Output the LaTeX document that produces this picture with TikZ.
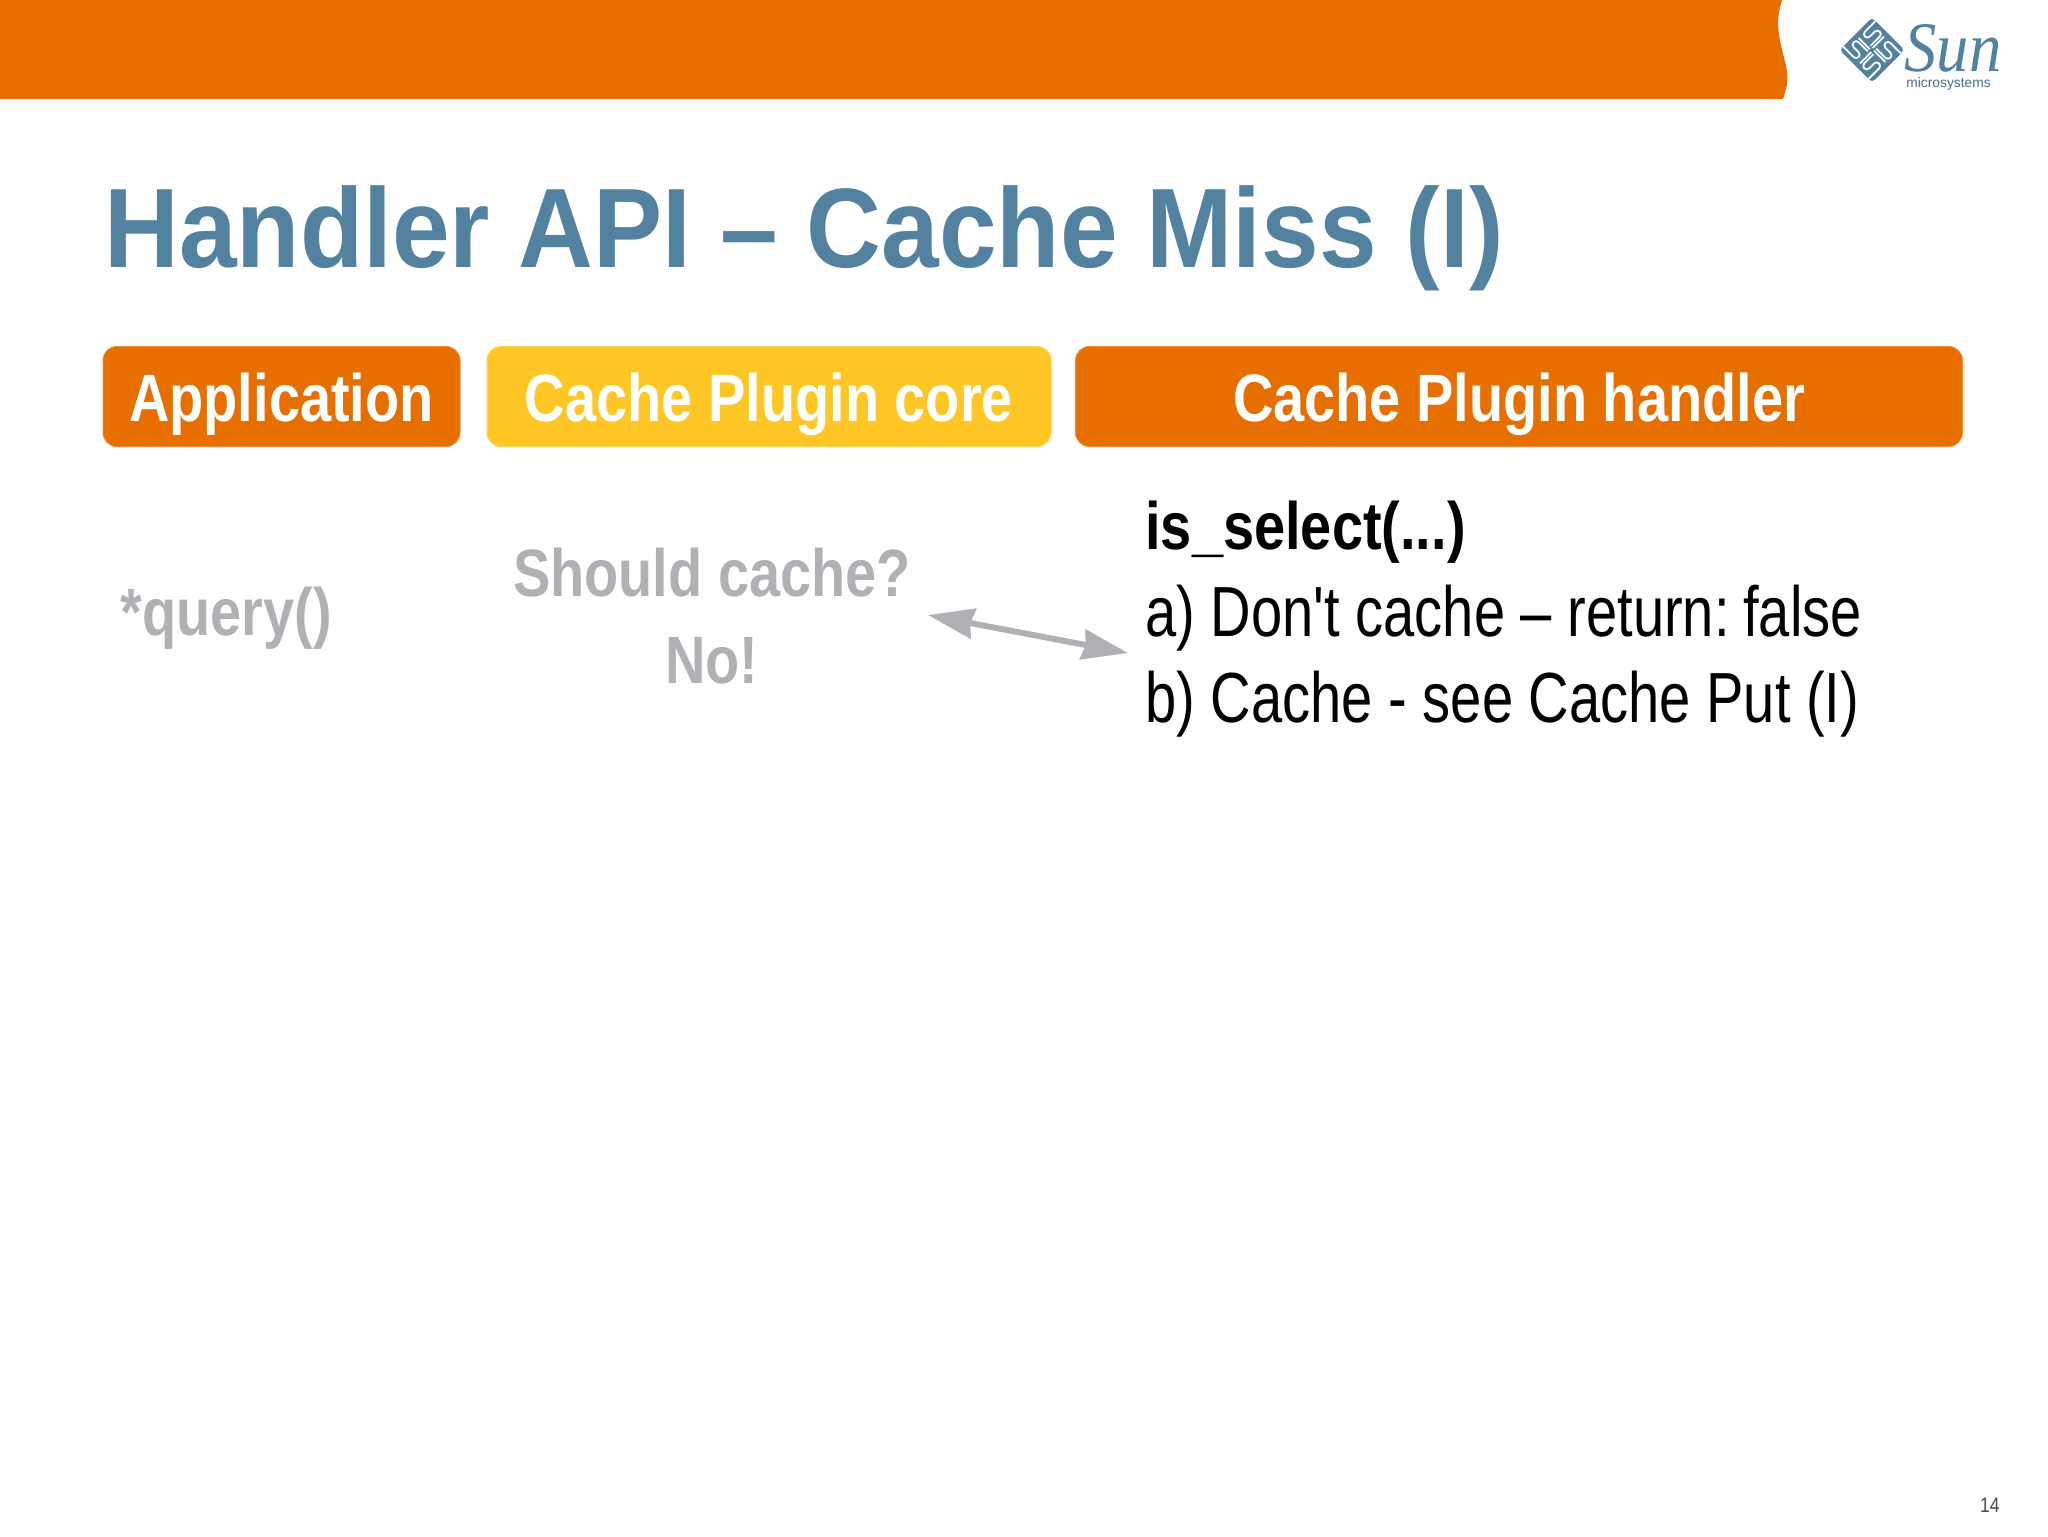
\documentclass[tikz,border=0pt]{standalone}
\usepackage{fontspec}
\setmainfont{Liberation Sans}
\newfontfamily\narrowfont[FakeStretch=0.835]{Liberation Sans}
\newfontfamily\plainfont[FakeStretch=0.79]{Liberation Sans}
\newfontfamily\titlefont[FakeStretch=0.917]{Liberation Sans}
\newfontfamily\sunfont[FakeStretch=0.91]{Liberation Serif}
\usetikzlibrary{arrows.meta}
\definecolor{sunorange}{HTML}{E76F00}
\definecolor{sunyellow}{HTML}{FFC726}
\definecolor{sunblue}{HTML}{5382A1}
\definecolor{fadegray}{HTML}{B2B0B5}
\tikzset{
    header/.style={fill=#1, draw=#1!80!white, line width=0.5pt, rounded corners=7pt, inner sep=0, text=white, font=\narrowfont\bfseries\fontsize{33.5}{40}\selectfont, text height=37.5pt, text depth=12.5pt},
    bodyline/.style={anchor=base west, inner sep=0, font=\plainfont\fontsize{35.5}{43}\selectfont},
    fadeline/.style={anchor=base, inner sep=0, text=fadegray, font=\narrowfont\bfseries\fontsize{33.5}{43}\selectfont}
}
\begin{document}
\begin{tikzpicture}[x=0.5pt,y=-0.5pt]
    \useasboundingbox (0,0) rectangle (2048,1536);
    \fill [sunorange] (0,0) -- (1782,0) .. controls (1774,25) and (1780,40) .. (1785,62) .. controls (1790,80) and (1786,90) .. (1783,99) -- (0,99) -- cycle;
    % logo
    \begin{scope}[shift={(1872,50)},rotate=45]
        \fill [sunblue, rounded corners=2pt] (-23,-23) rectangle (23,23);
        \foreach \a in {0,90,180,270} {
            \begin{scope}[rotate=\a]
                \draw [white, line width=0.9pt] (4,2) -- (4,15) arc (180:0:3.5) -- (11,8) arc (180:360:3.5) -- (18,23);
                \draw [white, line width=0.9pt] (1,2) -- (1,18);
            \end{scope}
        }
    \end{scope}
    \node [anchor=base west, inner sep=0, text=sunblue, font=\sunfont\itshape\fontsize{35.5}{36}\selectfont] (sunmark) at (1904,72) {Sun};
    \node [anchor=base west, inner sep=0, text=sunblue!85!black, font=\fontsize{6.9}{8}\selectfont] (sunsub) at (1906,88) {microsystems};
    % title
    \node [anchor=base west, inner sep=0, text=sunblue, font=\titlefont\bfseries\fontsize{56.5}{60}\selectfont] (title) at (104,267) {Handler API – Cache Miss (I)};
    % column heads
    \node [header=sunorange, minimum width=178.5pt] (app) at (281.5,396.5) {Application};
    \node [header=sunyellow, minimum width=282pt] (core) at (769,396.5) {Cache Plugin core};
    \node [header=sunorange, minimum width=443.5pt] (handler) at (1519,396.5) {Cache Plugin handler};
    % texts
    \node [fadeline, anchor=base west] (query) at (120,635) {*query()};
    \node [fadeline] (should) at (712,596) {Should cache?};
    \node [fadeline] (no) at (712,683) {No!};
    \node [bodyline, font=\narrowfont\bfseries\fontsize{33.5}{43}\selectfont] (select) at (1145,549) {is\_select(...)};
    \node [bodyline] (dont) at (1145,636) {a) Don't cache – return:\kern-1pt\ false};
    \node [bodyline] (see) at (1145,722) {b) Cache - see Cache Put (I)};
    % arrow
    \coordinate (from) at (928,615);
    \coordinate (to) at (1128,653);
    \draw [{Stealth[length=23pt,width=15pt,inset=1.5pt]}-{Stealth[length=23pt,width=15pt,inset=1.5pt]}, draw=fadegray, fill=fadegray, line width=3pt] (from) -- (to);
    \node [anchor=base east, inner sep=0, text=black!70, font=\narrowfont\fontsize{10.5}{12}\selectfont] (page) at (2000,1512) {14};
\end{tikzpicture}
\end{document}
